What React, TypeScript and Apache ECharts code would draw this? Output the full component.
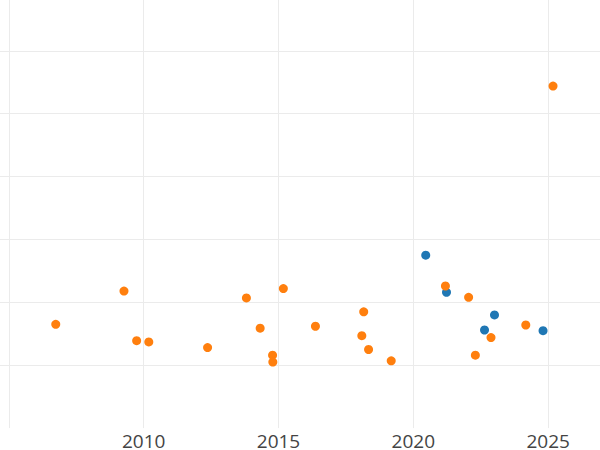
import React, { useEffect, useRef } from "react";
import * as echarts from "echarts";

// Orange series: [year, value]
const orangeYears = [
  2006.74, 2009.27, 2009.74, 2010.19, 2012.37, 2013.81, 2014.32, 2014.78,
  2014.79, 2015.18, 2016.37, 2018.16, 2018.09, 2018.34, 2019.18, 2021.19,
  2022.05, 2022.3, 2022.88, 2024.17, 2025.18,
];
const orangeValues = [
  1.65, 2.18, 1.39, 1.37, 1.28, 2.07, 1.59, 1.16, 1.05, 2.22, 1.62, 1.85,
  1.47, 1.25, 1.07, 2.26, 2.08, 1.16, 1.44, 1.64, 5.44,
];

// Blue series
const blueYears = [2020.46, 2021.23, 2023.01, 2022.64, 2024.81];
const blueValues = [2.75, 2.16, 1.8, 1.56, 1.55];

const yearTicks = [2010, 2015, 2020, 2025];

// The plot runs past the window edges, so the chart div is larger than the
// window and shifted up/left.
const PX_PER_YEAR = 27.18;
const PX_PER_UNIT = 62.8;
const offsetLeft = 142.5 - 10 * PX_PER_YEAR; // x of 2000
const chartWidth = 30 * PX_PER_YEAR; // 2000..2030
const offsetTop = 427.1 - 7 * PX_PER_UNIT; // y of value 7

const App: React.FC = () => {
  const chartRef = useRef<HTMLDivElement>(null);

  useEffect(() => {
    if (!chartRef.current) return;
    const chart = echarts.init(chartRef.current, undefined, { renderer: "svg" });

    const gridColor = "#ebebeb";
    // 8 horizontal split lines (0..7); the one at 0 is not shown
    const yLineColors = ["rgba(0,0,0,0)"].concat(new Array(7).fill(gridColor));

    chart.setOption({
      animation: false,
      backgroundColor: "#fff",
      grid: { left: 0, right: 0, top: 0, bottom: 450 - 427.1 },
      xAxis: {
        type: "value",
        min: 2000,
        max: 2030,
        interval: 5,
        axisLine: { show: false },
        axisTick: { show: false },
        axisLabel: {
          margin: 6,
          color: "#444",
          fontFamily: "Open Sans",
          fontSize: 19,
          lineHeight: 14,
          formatter: (v: number) => (yearTicks.includes(v) ? String(v) : ""),
        },
        splitLine: { show: true, lineStyle: { color: gridColor, width: 1 } },
      },
      yAxis: {
        type: "value",
        min: 0,
        max: 7,
        interval: 1,
        axisLine: { show: false },
        axisTick: { show: false },
        axisLabel: { show: false },
        splitLine: { show: true, lineStyle: { color: yLineColors, width: 1 } },
      },
      series: [
        {
          type: "scatter",
          symbolSize: 9,
          itemStyle: { color: "#1f77b4", opacity: 1 },
          data: blueYears.map((x, i) => [x, blueValues[i]]),
        },
        {
          type: "scatter",
          symbolSize: 9,
          itemStyle: { color: "#ff7f0e", opacity: 1 },
          data: orangeYears.map((x, i) => [x, orangeValues[i]]),
        },
      ],
    });

    return () => {
      chart.dispose();
    };
  }, []);

  return (
    <div style={{ position: "fixed", left: 0, top: 0, width: 600, height: 450, overflow: "hidden", background: "#fff" }}>
      <div
        ref={chartRef}
        style={{
          position: "absolute",
          left: offsetLeft,
          top: offsetTop,
          width: chartWidth,
          height: 450 - offsetTop,
        }}
      />
    </div>
  );
};

export default App;
